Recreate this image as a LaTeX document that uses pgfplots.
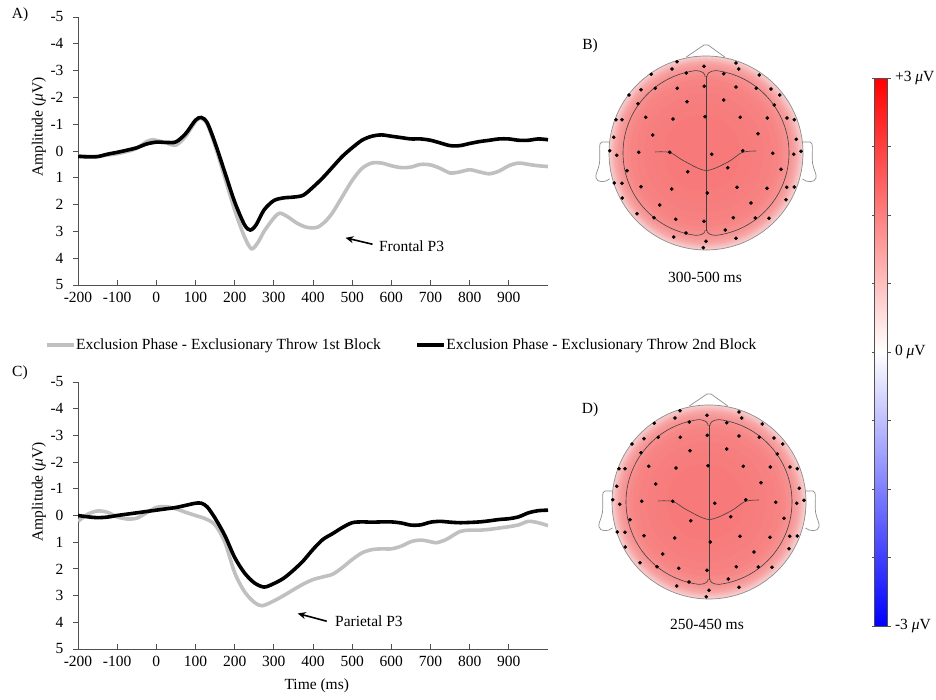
\documentclass[border=0pt]{standalone}
\usepackage{fontspec}
\setmainfont{Liberation Serif}
\usepackage{pgfplots}
\pgfplotsset{compat=1.18}
\usepackage{pgfplotstable}
\usetikzlibrary{arrows.meta}

\definecolor{lgray}{RGB}{192,192,192}
\definecolor{axisc}{RGB}{80,80,80}

% Frontal P3 (panel A), amplitude in microvolts
\pgfplotstableread{
t a
-200 0.20
-175 0.22
-150 0.21
-125 0.12
-100 0.05
-75 -0.03
-50 -0.12
-25 -0.26
0 -0.33
25 -0.32
50 -0.34
75 -0.65
100 -1.15
115 -1.25
130 -1.05
150 -0.30
175 0.80
200 1.90
225 2.75
240 2.95
255 2.75
275 2.20
300 1.85
325 1.75
350 1.72
375 1.65
400 1.35
425 1.00
450 0.60
475 0.20
500 -0.12
525 -0.40
550 -0.55
575 -0.60
600 -0.55
625 -0.50
650 -0.45
675 -0.45
700 -0.40
725 -0.30
750 -0.20
775 -0.20
800 -0.28
825 -0.35
850 -0.40
875 -0.45
900 -0.45
925 -0.40
950 -0.40
975 -0.45
1000 -0.42
}\frontB
\pgfplotstableread{
t a
-200 0.18
-175 0.20
-150 0.20
-125 0.15
-100 0.10
-75 0.02
-50 -0.10
-25 -0.35
-10 -0.42
0 -0.40
25 -0.30
50 -0.22
75 -0.55
100 -1.10
115 -1.22
130 -1.00
150 -0.20
175 1.00
200 2.20
225 3.20
243 3.65
260 3.40
275 3.00
300 2.50
315 2.32
335 2.45
360 2.70
385 2.85
410 2.85
430 2.65
450 2.30
475 1.70
500 1.10
525 0.65
550 0.45
575 0.45
600 0.55
625 0.62
650 0.60
675 0.50
700 0.52
725 0.65
750 0.82
775 0.78
800 0.70
825 0.78
850 0.85
875 0.75
900 0.55
925 0.45
950 0.50
975 0.55
1000 0.58
}\frontA
% Parietal P3 (panel C)
\pgfplotstableread{
t a
-200 0.00
-175 0.05
-150 0.08
-125 0.06
-100 0.00
-75 -0.05
-50 -0.10
-25 -0.15
0 -0.20
25 -0.25
50 -0.30
75 -0.38
100 -0.46
115 -0.46
130 -0.32
150 0.10
175 0.75
200 1.57
225 2.15
250 2.52
275 2.68
300 2.55
325 2.35
350 2.05
375 1.70
400 1.27
425 0.90
450 0.68
475 0.45
500 0.27
525 0.24
550 0.25
575 0.24
600 0.24
625 0.28
650 0.36
675 0.35
700 0.25
725 0.22
750 0.25
775 0.27
800 0.26
825 0.24
850 0.20
875 0.15
900 0.12
925 0.05
950 -0.10
975 -0.18
1000 -0.20
}\parB
\pgfplotstableread{
t a
-200 0.22
-175 -0.05
-150 -0.17
-125 -0.12
-100 0.05
-75 0.13
-50 0.10
-25 -0.10
0 -0.30
25 -0.33
50 -0.25
75 -0.12
100 0.00
125 0.12
150 0.35
175 1.00
200 2.14
225 2.85
250 3.25
270 3.38
300 3.20
325 3.00
350 2.78
375 2.57
400 2.40
425 2.30
450 2.20
475 1.95
500 1.65
525 1.40
550 1.28
575 1.25
600 1.25
625 1.15
650 0.98
675 0.92
700 0.98
715 1.02
740 0.90
775 0.60
800 0.55
825 0.55
850 0.52
875 0.47
900 0.42
925 0.35
950 0.22
975 0.27
1000 0.38
}\parA
% electrode positions (pixels relative to head centre)
\pgfplotstableread{
x y
-29.0 91.3
-2.0 86.7
30.0 90.0
-34.0 84.0
32.7 84.0
-54.7 78.7
-19.7 80.0
17.7 79.3
53.3 78.0
-1.7 66.7
-50.7 64.7
-28.7 64.7
30.0 66.0
50.3 64.7
-65.0 63.3
65.0 64.0
-77.0 58.0
73.7 58.0
-19.0 51.3
17.7 53.0
-68.0 49.3
68.3 48.0
-90.0 33.3
-84.0 33.3
-60.3 35.7
-33.0 34.0
-1.0 36.3
34.3 35.7
61.3 35.0
81.0 35.0
88.3 33.3
-53.3 18.0
52.0 19.3
-92.3 15.7
90.3 13.7
-96.3 2.3
-89.3 -2.3
-67.3 0.7
-36.3 0.7
5.7 -1.3
36.7 2.3
66.7 -0.3
87.7 -1.3
95.0 1.7
-79.0 -17.7
-18.3 -18.7
21.7 -14.7
75.0 -16.3
-91.7 -30.0
-84.0 -30.3
-65.0 -33.7
-34.3 -36.0
1.3 -40.0
31.0 -34.3
61.0 -35.3
80.7 -34.3
88.3 -34.0
-83.7 -45.0
80.0 -46.7
-46.3 -52.0
45.0 -50.0
-69.0 -60.7
-52.0 -64.7
-30.3 -66.3
-2.0 -68.3
27.3 -64.7
49.3 -65.0
63.0 -65.3
-20.0 -80.0
19.3 -77.0
-32.3 -84.0
30.0 -85.3
0.0 -88.3
-2.7 -94.7
}\electrodes
\pgfplotstableread{
x y
-51 1
-36 0.5
-22 -8
0 -17.5
22 -9
36 0.5
50 2
}\sulcus

\pgfplotsset{
  erp/.style={
    scale only axis, width=470pt,
    xmin=-200, xmax=1000, ymin=-5, ymax=5, y dir=reverse,
    axis x line*=bottom, axis y line*=left,
    axis line style={axisc, line width=0.8pt},
    xtick={-200,-100,0,100,200,300,400,500,600,700,800,900},
    xticklabels={-200,-100,0,100,200,300,400,500,600,700,800,900},
    ytick={-5,-4,-3,-2,-1,0,1,2,3,4,5},
    yticklabels={-5,-4,-3,-2,-1,0,1,2,3,4,5},
    tick align=inside, major tick length=5pt,
    tick style={axisc, line width=0.8pt},
    y tick style={xshift=-5pt},
    yticklabel style={xshift=-11pt},
    xticklabel style={yshift=-4pt},
    /pgf/number format/assume math mode=true,
    ylabel={Amplitude (\textit{μ}V)},
    ylabel style={at={(axis description cs:-0.083,0.589)}, anchor=center, rotate=0},
    font=\fontsize{15.5}{18}\selectfont,
  },
  head/.style={scale only axis, width=200pt, height=200pt,
    xmin=-100, xmax=100, ymin=-100, ymax=100, hide axis, clip=false,
    font=\fontsize{15.5}{18}\selectfont},
}

\newcommand{\headdecor}{%
  \fill[red!17!white!97!black] (0,0) circle[radius=97];
  \fill[red!21!white!97!black] (-0.1,0) circle[radius=95.5];
  \fill[red!25!white!97!black] (-0.2,0) circle[radius=94];
  \fill[red!29!white!97!black] (-0.3,0) circle[radius=92.5];
  \fill[red!33!white!97!black] (-0.4,0) circle[radius=91];
  \fill[red!36!white!97!black] (-0.5,0) circle[radius=89];
  \fill[red!39!white!97!black] (-0.7,0) circle[radius=87];
  \fill[red!41!white!97!black] (-0.8,0) circle[radius=84.5];
  \fill[red!43!white!97!black] (-1.0,0) circle[radius=81.5];
  \fill[red!45!white!97!black] (-1.3,0) circle[radius=78];
  \fill[red!47!white!97!black] (-1.5,0) circle[radius=74];
  \fill[red!48!white!97!black] (-1.9,0) circle[radius=68];
  \fill[red!49!white!97!black] (-2.5,0) circle[radius=60];
  \fill[red!50!white!97!black] (-3.1,0) circle[radius=50];
  \fill[red!51!white!97!black] (-3.9,0) circle[radius=38];
  \draw[black!45, line width=0.7pt] (0,0) circle[radius=97];
  \draw[black!45, line width=0.7pt] (-20,95.8) -- (-2,108) -- (2,108) -- (19,95.8);
  \draw[black!45, line width=0.7pt] (-96.5,11) -- (-104,11) .. controls (-108,11) and (-105.5,0) .. (-106.5,-10) .. controls (-107.5,-17) and (-111,-21) .. (-110,-25) .. controls (-109,-30) and (-100,-29.5) .. (-96.5,-26);
  \draw[black!45, line width=0.7pt] (96.5,11) -- (104,11) .. controls (108,11) and (105.5,0) .. (106.5,-10) .. controls (107.5,-17) and (111,-21) .. (110,-25) .. controls (109,-30) and (100,-29.5) .. (96.5,-26);
  \draw[black!75, line width=0.6pt] (0.8,76) .. controls (0.8,80) and (4,82) .. (10.1,82.4) arc[start angle=83, end angle=-83, radius=83] .. controls (4,-82.4) and (0.8,-80) .. (0.8,-77);
  \draw[black!75, line width=0.6pt] (-0.8,76) .. controls (-0.8,80) and (-4,82) .. (-10.1,82.4) arc[start angle=97, end angle=263, radius=83] .. controls (-4,-82.4) and (-0.8,-80) .. (-0.8,-77);
  \draw[black!75, line width=0.6pt] (0,77) -- (0,-78);
}

\begin{document}
\begin{tikzpicture}[x=1pt,y=1pt]
\path[use as bounding box] (0,0) rectangle (936,700);

% Panel A
\begin{axis}[erp, at={(78pt,415pt)}, anchor=south west, height=268pt,
  legend style={at={(axis description cs:-0.0702,-0.2239)}, anchor=west,
    draw=none, fill=none, inner sep=0pt, outer sep=0pt,
    nodes={inner xsep=0.5pt, inner ysep=1pt},
    /tikz/every even column/.append style={column sep=34pt}},
  legend columns=2,
  legend image code/.code={\draw[#1] (0pt,0pt) -- (27pt,0pt);},
]
\addplot[lgray, line width=3.6pt, smooth] table[x=t, y=a] {\frontA};
\addlegendentry{Exclusion Phase - Exclusionary Throw 1st Block}
\addplot[black, line width=3.6pt, smooth] table[x=t, y=a] {\frontB};
\addlegendentry{Exclusion Phase - Exclusionary Throw 2nd Block}
\draw[-{Stealth[length=8pt,width=7pt]}, line width=1.6pt] (axis cs:552,3.48) -- (axis cs:483,3.24);
\node[anchor=west, inner sep=0pt] at (axis cs:568,3.55) {Frontal P3};
\end{axis}

% Panel C
\begin{axis}[erp, at={(78pt,51pt)}, anchor=south west, height=267pt,
  xlabel={Time (ms)},
  xlabel style={at={(axis description cs:0.508,-0.1386)}, anchor=center},
]
\addplot[lgray, line width=3.6pt, smooth] table[x=t, y=a] {\parA};
\addplot[black, line width=3.6pt, smooth] table[x=t, y=a] {\parB};
\draw[-{Stealth[length=8pt,width=7pt]}, line width=1.6pt] (axis cs:435,3.96) -- (axis cs:361,3.67);
\node[anchor=west, inner sep=0pt] at (axis cs:456,3.97) {Parietal P3};
\end{axis}

% Panel B head
\begin{axis}[head, at={(606pt,447pt)}, anchor=south west]
\headdecor
\addplot[black!75, line width=0.6pt, smooth] table[x=x, y=y] {\sulcus};
\addplot[only marks, mark=*, mark size=1.6pt, black] table[x=x, y=y] {\electrodes};
\node at (-1,-124) {300-500 ms};
\end{axis}

% Panel D head
\begin{axis}[head, at={(609pt,98pt)}, anchor=south west]
\headdecor
\addplot[black!75, line width=0.6pt, smooth] table[x=x, y=y] {\sulcus};
\addplot[only marks, mark=*, mark size=1.6pt, black] table[x=x, y=y] {\electrodes};
\node at (-2,-122) {250-450 ms};
\end{axis}

% colour bar
\begin{axis}[at={(866pt,74pt)}, anchor=south west, scale only axis,
  width=13pt, height=548pt, hide axis, xmin=0, xmax=1, ymin=-3, ymax=3,
  colormap={bwr}{rgb255(0cm)=(0,0,255); rgb255(1cm)=(255,255,255); rgb255(2cm)=(255,0,0)},
  point meta min=-3, point meta max=3,
  colorbar,
  colorbar style={at={(parent axis.south west)}, anchor=south west, xshift=0pt,
    scale only axis, width=13pt, height=548pt,
    ytick={-3,-2.25,-1.5,-0.75,0,0.75,1.5,2.25,3},
    yticklabels={-3 \textit{μ}V,,,,0 \textit{μ}V,,,,+3 \textit{μ}V},
    yticklabel pos=right, tick align=outside, major tick length=3pt,
    tick style={axisc, line width=0.6pt},
    axis line style={axisc, line width=0.6pt},
    yticklabel style={font=\fontsize{15.5}{18}\selectfont, xshift=1pt},
  },
]
\addplot[draw=none, point meta=y] coordinates {(0,-3) (1,3)};
\end{axis}

\node[font=\fontsize{15.5}{18}\selectfont] at (20,685) {A)};
\node[font=\fontsize{15.5}{18}\selectfont] at (590,654) {B)};
\node[font=\fontsize{15.5}{18}\selectfont] at (20,327) {C)};
\node[font=\fontsize{15.5}{18}\selectfont] at (590,290) {D)};
\end{tikzpicture}
\end{document}
